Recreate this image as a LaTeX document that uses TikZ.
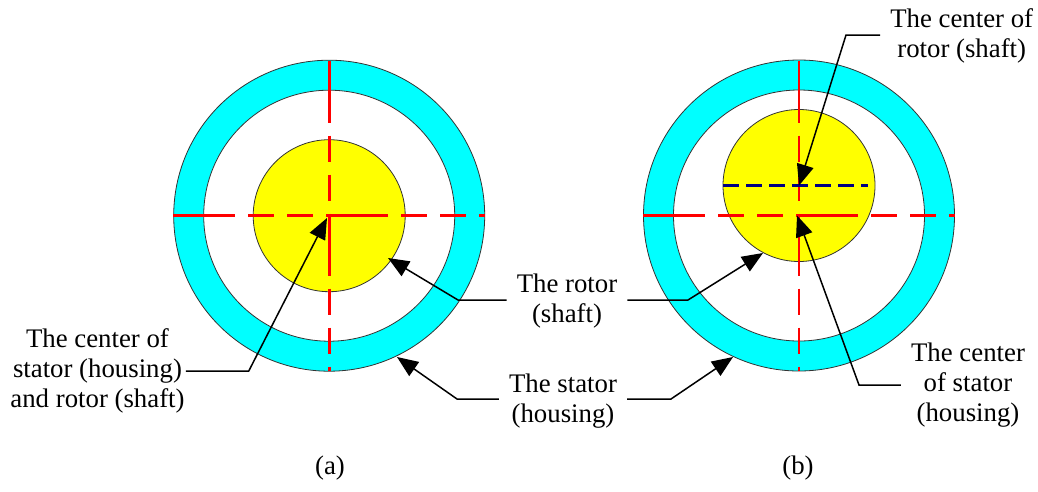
\documentclass[tikz,border=0pt]{standalone}
\usepackage{fontspec}
\setmainfont{Liberation Serif}
\usepackage{tikz}
\usetikzlibrary{arrows.meta}
\definecolor{ringcyan}{RGB}{0,255,255}
\definecolor{rotoryellow}{RGB}{255,255,0}
\definecolor{axisred}{RGB}{255,0,0}
\definecolor{axisblue}{RGB}{0,0,128}
\tikzset{
    stator/.style={draw=black!80, line width=0.8pt, fill=ringcyan},
    gap/.style={draw=black!80, line width=0.8pt, fill=white},
    rotor/.style={draw=black!80, line width=0.8pt, fill=rotoryellow},
    axis/.style={axisred, line width=2.6pt, dash pattern=on 62pt off 13pt on 26pt off 13pt on 26pt off 13pt},
    raxis/.style={axisblue, line width=2.4pt, dash pattern=on 16pt off 7pt},
    leader/.style={black, line width=1.5pt, -{Triangle[length=21pt,width=17pt]}},
    label/.style={align=center, inner xsep=10pt, inner ysep=0pt, font=\fontsize{26.8}{30}\selectfont}
}
\begin{document}
\begin{tikzpicture}[x=1pt, y=-1pt]
    \useasboundingbox (0,0) rectangle (1038,491);
    \coordinate (ca) at (329.2,215.7);
    \coordinate (cb) at (799,215.5);
    \coordinate (rb) at (799,185.5);

    % (a) concentric
    \draw[stator] (ca) circle[radius=155.5pt];
    \draw[gap] (ca) circle[radius=125.5pt];
    \draw[rotor] (ca) circle[radius=76pt];
    \draw[axis] ([xshift=-156pt]ca) -- ([xshift=156pt]ca);
    \draw[axis] ([yshift=155pt]ca) -- ([yshift=-155pt]ca);

    % (b) eccentric
    \draw[stator] (cb) circle[radius=155.5pt];
    \draw[gap] (cb) circle[radius=125.5pt];
    \draw[rotor] (rb) circle[radius=76pt];
    \draw[axis] ([xshift=-156pt]cb) -- ([xshift=156pt]cb);
    \draw[axis] ([yshift=155pt]cb) -- ([yshift=-155pt]cb);
    \draw[raxis] ([xshift=-76pt]rb) -- ([xshift=69pt]rb);

    % labels
    \node (cenA) [label, inner xsep=1pt] at (97.5,371) {The center of\\stator (housing)\\and rotor (shaft)};
    \node (rotorL) [label] at (567,301) {The rotor\\(shaft)};
    \node (statorL) [label] at (563,401) {The stator\\(housing)};
    \node (cenRotB) [label] at (961.7,36) {The center of\\rotor (shaft)};
    \node (cenStaB) [label] at (968,385) {The center\\of stator\\(housing)};
    \node (capA) [label] at (330,468) {(a)};
    \node (capB) [label] at (798,468) {(b)};

    % arrow tips
    \coordinate (tipA) at (327,218);
    \coordinate (tipRotA) at (388,258);
    \coordinate (tipStaA) at (397,357);
    \coordinate (tipRotB) at (763,253);
    \coordinate (tipStaB) at (733,357);

    \draw[leader] (cenA.east) -- ++(63,0) -- (tipA);
    \draw[leader] (rotorL.west |- 0,300) -- (458,300) -- (tipRotA);
    \draw[leader] (statorL.west |- 0,399) -- (457,399) -- (tipStaA);
    \draw[leader] (rotorL.east |- 0,300) -- (688,300) -- (tipRotB);
    \draw[leader] (statorL.east |- 0,399) -- (671,399) -- (tipStaB);
    \draw[leader] (cenRotB.west |- 0,35) -- (846,35) -- (rb);
    \draw[leader] (cenStaB.west) -- (859,385) -- ([xshift=-2pt]cb);
\end{tikzpicture}
\end{document}
